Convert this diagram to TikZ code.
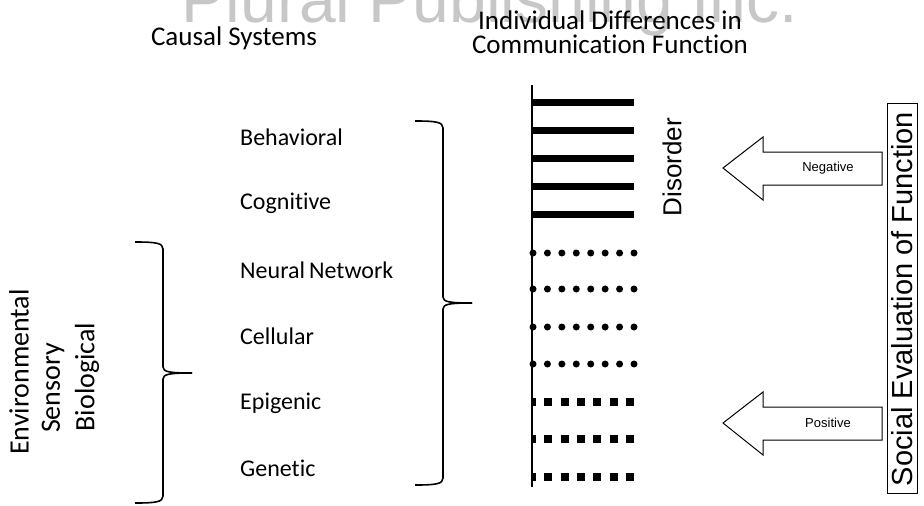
\documentclass[tikz,border=0pt]{standalone}
\usepackage{fontspec}
\setmainfont[Ligatures={NoCommon}]{Carlito}
\newfontfamily\arialf{Liberation Sans}
\begin{document}
\begin{tikzpicture}[x=1pt,y=-1pt,
  lbl/.style={font=\fontsize{24}{28}\selectfont, anchor=west, inner sep=0pt},
  hdr/.style={font=\fontsize{27}{24}\selectfont, inner sep=0pt, align=center},
  vlbl/.style={rotate=90, font=\fontsize{28}{30}\selectfont, inner sep=0pt},
  brace/.style={line width=1.6pt, line join=round},
  solidbar/.style={line width=7pt},
  dotbar/.style={line width=7pt, line cap=round, dash pattern=on 0pt off 14.43pt},
  sqbar/.style={line width=8pt, dash pattern=on 8pt off 8.3pt, dash phase=3pt},
  bigarrow/.style={draw=black, line width=1pt, fill=white},
  smalll/.style={font=\arialf\fontsize{13}{15}\selectfont, inner sep=0pt}
]
\useasboundingbox (0,0) rectangle (924,506);
\begin{scope}
\clip (0,0) rectangle (924,506);
\node[anchor=base, inner sep=0pt, text=black!22, font=\arialf\fontsize{66}{70}\selectfont] (wm) at (490,22) {Plural Publishing Inc.};
\end{scope}

% headers
\node[hdr] (cs) at (234,38) {Causal Systems};
\node[hdr] (idh) at (610,32) {Individual Differences in\\Communication Function};

% causal system labels
\node[lbl] (beh) at (240,137) {Behavioral};
\node[lbl] (cog) at (240,203) {Cognitive};
\node[lbl] (neu) at (240,270) {Neural\,Network};
\node[lbl] (cel) at (240,336) {Cellular};
\node[lbl] (epi) at (240,403) {Epigenic};
\node[lbl] (gen) at (240,468) {Genetic};

% big brace
\draw[brace] (415,121) .. controls (436,121) and (443,122) .. (443,128)
  -- (443,297) .. controls (443,302) and (450,303) .. (472,303);
\draw[brace] (472,303) .. controls (450,303) and (443,304) .. (443,309)
  -- (443,478) .. controls (443,484) and (436,485) .. (415,485);

% left brace
\draw[brace] (135,242) .. controls (156,242) and (163,243) .. (163,249)
  -- (163,367) .. controls (163,372) and (170,373) .. (192,373);
\draw[brace] (192,373) .. controls (170,373) and (163,374) .. (163,379)
  -- (163,496) .. controls (163,502) and (156,503) .. (135,503);

% left rotated labels
\node[vlbl] (env) at (19,372) {Environmental};
\node[vlbl] (sen) at (53,388) {Sensory};
\node[vlbl] (bio) at (87,377) {Biological};

% bars
\foreach \y in {102,130,158,186,214} \draw[solidbar] (532,\y) -- (634,\y);
\foreach \y in {253,289,327,364} \draw[dotbar] (533,\y) -- (636,\y);
\foreach \y in {402,439,477} \draw[sqbar] (531,\y) -- (636,\y);
\draw[line width=2pt] (532,85) -- (532,487);

\node[rotate=90, font=\arialf\fontsize{26}{30}\selectfont, inner sep=0pt] (dis) at (672,167) {Disorder};

% arrows
\draw[bigarrow] (723,168) -- (763,137) -- (763,152) -- (882,152) -- (882,185) -- (763,185) -- (763,200) -- cycle;
\node[smalll] (neg) at (828,168) {Negative};
\draw[bigarrow] (723,423) -- (763,392) -- (763,407) -- (882,407) -- (882,440) -- (763,440) -- (763,455) -- cycle;
\node[smalll] (pos) at (828,423) {Positive};

% box
\draw[line width=1pt] (887,103) rectangle (917,493);
\node[rotate=90, font=\arialf\fontsize{29}{32}\selectfont, inner sep=0pt] (soc) at (902,299) {Social Evaluation of Function};
\end{tikzpicture}
\end{document}
